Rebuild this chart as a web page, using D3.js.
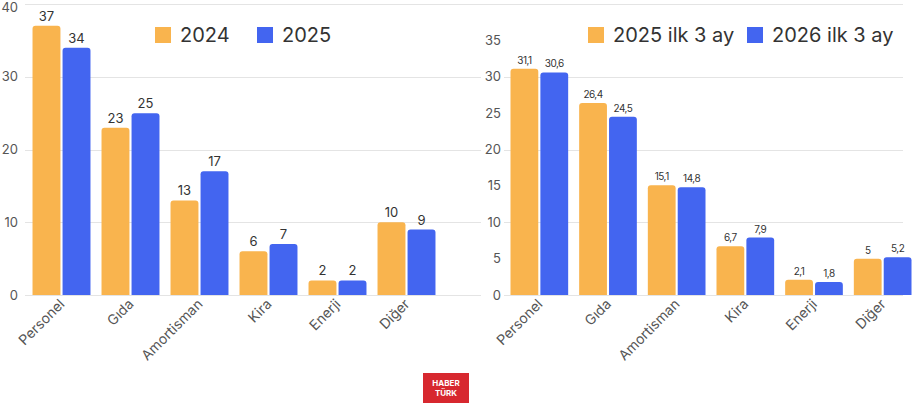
<!DOCTYPE html>
<html>
<head>
<meta charset="utf-8">
<script src="https://cdn.jsdelivr.net/npm/d3@7"></script>
<style>
html,body{margin:0;padding:0;background:#fff;}
svg{display:block;font-family:Inter, "Open Sans", sans-serif;}
</style>
</head>
<body>
<svg id="c" width="912" height="408"></svg>
<script>
const categories = ["Personel","Gıda","Amortisman","Kira","Enerji","Diğer"];
const leftSeriesNames = ["2024","2025"];
const left2024 = [37,23,13,6,2,10];
const left2025 = [34,25,17,7,2,9];
const rightSeriesNames = ["2025 ilk 3 ay","2026 ilk 3 ay"];
const right2025q1 = [31.1,26.4,15.1,6.7,2.1,5];
const right2026q1 = [30.6,24.5,14.8,7.9,1.8,5.2];
const leftTicks = [0,10,20,30,40];
const rightTicks = [0,5,10,15,20,25,30,35];
const gridValues = [0,10,20,30,40];

const ORANGE = "#F9B44E", BLUE = "#4365F0";
const svg = d3.select("#c");

const y = d3.scaleLinear().domain([0,40]).range([295,4]);

function roundTop(x0, y0, w, h, r){
  r = Math.min(r, h, w/2);
  return `M${x0},${y0+h}V${y0+r}Q${x0},${y0} ${x0+r},${y0}H${x0+w-r}Q${x0+w},${y0} ${x0+w},${y0+r}V${y0+h}Z`;
}

const fmt = v => String(v).replace(".", ",");

function chart(opts){
  const g = svg.append("g");
  const x0 = d3.scaleBand().domain(categories).range(opts.range).paddingInner(0.16).paddingOuter(0.08);
  const x1 = d3.scaleBand().domain([0,1]).range([0, x0.bandwidth()]).paddingInner(0.07);
  g.selectAll("line.grid").data(opts.grid).join("line")
    .attr("x1", opts.gridX[0]).attr("x2", opts.gridX[1])
    .attr("y1", d=>Math.round(y(d))+0.5).attr("y2", d=>Math.round(y(d))+0.5)
    .attr("stroke", "#e4e4e4").attr("stroke-width", 1);
  g.selectAll("text.yt").data(opts.ticks).join("text")
    .attr("x", opts.tickX).attr("y", d=>Math.max(y(d), 7)).attr("dy","0.35em")
    .attr("text-anchor","end").attr("font-size", 13).attr("fill","#555")
    .text(d=>d);
  const series = [opts.s1, opts.s2];
  const colors = [ORANGE, BLUE];
  series.forEach((vals, si) => {
    const gg = g.append("g");
    gg.selectAll("path").data(vals).join("path")
      .attr("d", (v,i)=>roundTop(x0(categories[i]) + x1(si), y(v), x1.bandwidth(), y(0)-y(v), 3))
      .attr("fill", colors[si]);
    gg.selectAll("text").data(vals).join("text")
      .attr("x", (v,i)=>x0(categories[i]) + x1(si) + x1.bandwidth()/2)
      .attr("y", v=>y(v)-5)
      .attr("text-anchor","middle").attr("font-size", opts.valSize).attr("fill","#333")
      .attr("letter-spacing", opts.valSpacing)
      .text(v=>fmt(v));
  });
  g.selectAll("text.xl").data(categories).join("text")
    .attr("transform", d=>`translate(${x0(d)+x0.bandwidth()/2+4},${305}) rotate(-45)`)
    .attr("text-anchor","end").attr("font-size", 14).attr("fill","#555")
    .text(d=>d);
  const lg = g.append("g");
  opts.legend.forEach((name, i) => {
    const lx = opts.legendX[i];
    lg.append("rect").attr("x", lx).attr("y", 27).attr("width", 16).attr("height", 16).attr("fill", colors[i]);
    lg.append("text").attr("x", lx+25).attr("y", 35).attr("dy","0.36em")
      .attr("font-size", 20).attr("fill","#333").text(name);
  });
}

chart({range:[27,441], grid:gridValues, gridX:[25,481], ticks:leftTicks, tickX:18,
  s1:left2024, s2:left2025, valSize:13, valSpacing:0, legend:leftSeriesNames, legendX:[155,257]});
chart({range:[505,917], grid:gridValues.filter(d=>d<40), gridX:[504,903], ticks:rightTicks, tickX:501,
  s1:right2025q1, s2:right2026q1, valSize:10, valSpacing:-0.5, legend:rightSeriesNames, legendX:[588,747]});
svg.append("line").attr("x1",481).attr("x2",903).attr("y1",Math.round(y(40))+0.5).attr("y2",Math.round(y(40))+0.5)
  .attr("stroke","#e4e4e4");

const logo = svg.append("g");
logo.append("rect").attr("x",423).attr("y",373).attr("width",46).attr("height",30).attr("fill","#D7282F");
logo.append("text").attr("x",446).attr("y",386).attr("text-anchor","middle").attr("font-size",8).attr("font-weight","bold").attr("fill","#fff").text("HABER");
logo.append("text").attr("x",446).attr("y",396).attr("text-anchor","middle").attr("font-size",8).attr("font-weight","bold").attr("fill","#fff").text("TÜRK");
</script>
</body>
</html>
